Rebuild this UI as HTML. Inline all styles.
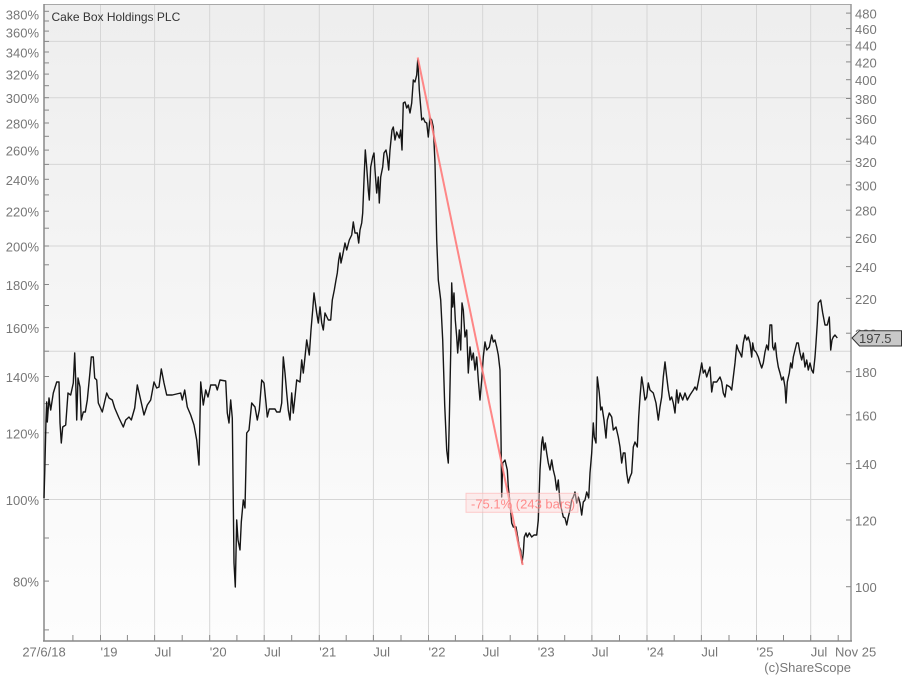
<!DOCTYPE html>
<html><head><meta charset="utf-8"><style>
html,body{margin:0;padding:0;background:#fff;}
svg{display:block;font-family:"Liberation Sans",Arial,sans-serif;}
</style></head><body>
<svg width="904" height="676" viewBox="0 0 904 676" xmlns="http://www.w3.org/2000/svg">
<defs>
<linearGradient id="bg" x1="0" y1="0" x2="0" y2="1">
<stop offset="0" stop-color="#eeeeee"/>
<stop offset="1" stop-color="#fdfdfd"/>
</linearGradient>
</defs>
<rect x="0" y="0" width="904" height="676" fill="#fff"/>
<rect x="44" y="4" width="807" height="637" fill="url(#bg)"/>
<!-- horizontal gridlines -->
<g stroke="#d6d6d6" stroke-width="1">
<line x1="44" x2="851" y1="499.5" y2="499.5"/>
<line x1="44" x2="851" y1="351.2" y2="351.2"/>
<line x1="44" x2="851" y1="246" y2="246"/>
<line x1="44" x2="851" y1="164.4" y2="164.4"/>
<line x1="44" x2="851" y1="97.7" y2="97.7"/>
<line x1="44" x2="851" y1="41.4" y2="41.4"/>
</g>
<!-- vertical gridlines -->
<g stroke="#d6d6d6" stroke-width="1">
<line y1="4" y2="641" x1="100.5" x2="100.5"/>
<line y1="4" y2="641" x1="154.6" x2="154.6"/>
<line y1="4" y2="641" x1="209.7" x2="209.7"/>
<line y1="4" y2="641" x1="264.2" x2="264.2"/>
<line y1="4" y2="641" x1="319.3" x2="319.3"/>
<line y1="4" y2="641" x1="373.4" x2="373.4"/>
<line y1="4" y2="641" x1="428.5" x2="428.5"/>
<line y1="4" y2="641" x1="482.7" x2="482.7"/>
<line y1="4" y2="641" x1="537.7" x2="537.7"/>
<line y1="4" y2="641" x1="591.9" x2="591.9"/>
<line y1="4" y2="641" x1="647" x2="647"/>
<line y1="4" y2="641" x1="701.4" x2="701.4"/>
<line y1="4" y2="641" x1="756.5" x2="756.5"/>
<line y1="4" y2="641" x1="810.7" x2="810.7"/>
</g>
<!-- border -->
<line x1="44" x2="851" y1="4.5" y2="4.5" stroke="#a8a8a8" stroke-width="1"/>
<line x1="44" x2="44" y1="4" y2="641.5" stroke="#888" stroke-width="1.5"/>
<line x1="851" x2="851" y1="4" y2="641.5" stroke="#999" stroke-width="1.5"/>
<line x1="43" x2="852" y1="641" y2="641" stroke="#888" stroke-width="1.5"/>
<!-- left ticks -->
<g stroke="#888" stroke-width="1">
<line x1="44" x2="49" y1="629.9" y2="629.9"/><line x1="44" x2="49" y1="581.1" y2="581.1"/><line x1="44" x2="49" y1="538" y2="538"/><line x1="44" x2="49" y1="499.5" y2="499.5"/><line x1="44" x2="49" y1="464.6" y2="464.6"/><line x1="44" x2="49" y1="432.8" y2="432.8"/><line x1="44" x2="49" y1="403.6" y2="403.6"/><line x1="44" x2="49" y1="376.5" y2="376.5"/><line x1="44" x2="49" y1="351.2" y2="351.2"/><line x1="44" x2="49" y1="327.6" y2="327.6"/><line x1="44" x2="49" y1="305.5" y2="305.5"/><line x1="44" x2="49" y1="284.5" y2="284.5"/><line x1="44" x2="49" y1="264.8" y2="264.8"/><line x1="44" x2="49" y1="246" y2="246"/><line x1="44" x2="49" y1="228.2" y2="228.2"/><line x1="44" x2="49" y1="211.2" y2="211.2"/><line x1="44" x2="49" y1="194.9" y2="194.9"/><line x1="44" x2="49" y1="179.3" y2="179.3"/><line x1="44" x2="49" y1="164.4" y2="164.4"/><line x1="44" x2="49" y1="150.1" y2="150.1"/><line x1="44" x2="49" y1="136.3" y2="136.3"/><line x1="44" x2="49" y1="123" y2="123"/><line x1="44" x2="49" y1="110.1" y2="110.1"/><line x1="44" x2="49" y1="97.7" y2="97.7"/><line x1="44" x2="49" y1="85.7" y2="85.7"/><line x1="44" x2="49" y1="74.1" y2="74.1"/><line x1="44" x2="49" y1="62.9" y2="62.9"/><line x1="44" x2="49" y1="52" y2="52"/><line x1="44" x2="49" y1="41.4" y2="41.4"/><line x1="44" x2="49" y1="31.1" y2="31.1"/><line x1="44" x2="49" y1="21" y2="21"/><line x1="44" x2="49" y1="11.3" y2="11.3"/>
</g>
<!-- right ticks -->
<g stroke="#888" stroke-width="1">
<line x1="846" x2="851" y1="586.7" y2="586.7"/><line x1="846" x2="851" y1="520" y2="520"/><line x1="846" x2="851" y1="463.7" y2="463.7"/><line x1="846" x2="851" y1="414.8" y2="414.8"/><line x1="846" x2="851" y1="371.7" y2="371.7"/><line x1="846" x2="851" y1="333.2" y2="333.2"/><line x1="846" x2="851" y1="298.4" y2="298.4"/><line x1="846" x2="851" y1="266.6" y2="266.6"/><line x1="846" x2="851" y1="237.3" y2="237.3"/><line x1="846" x2="851" y1="210.2" y2="210.2"/><line x1="846" x2="851" y1="184.9" y2="184.9"/><line x1="846" x2="851" y1="161.3" y2="161.3"/><line x1="846" x2="851" y1="139.2" y2="139.2"/><line x1="846" x2="851" y1="118.3" y2="118.3"/><line x1="846" x2="851" y1="98.5" y2="98.5"/><line x1="846" x2="851" y1="79.7" y2="79.7"/><line x1="846" x2="851" y1="61.9" y2="61.9"/><line x1="846" x2="851" y1="44.9" y2="44.9"/><line x1="846" x2="851" y1="28.6" y2="28.6"/><line x1="846" x2="851" y1="13.1" y2="13.1"/>
</g>
<!-- bottom ticks -->
<g stroke="#888" stroke-width="1">
<line y1="635" y2="641" x1="72.9" x2="72.9"/><line y1="635" y2="641" x1="100.5" x2="100.5"/><line y1="635" y2="641" x1="127.4" x2="127.4"/><line y1="635" y2="641" x1="154.6" x2="154.6"/><line y1="635" y2="641" x1="182.2" x2="182.2"/><line y1="635" y2="641" x1="209.7" x2="209.7"/><line y1="635" y2="641" x1="236.9" x2="236.9"/><line y1="635" y2="641" x1="264.2" x2="264.2"/><line y1="635" y2="641" x1="291.7" x2="291.7"/><line y1="635" y2="641" x1="319.3" x2="319.3"/><line y1="635" y2="641" x1="346.2" x2="346.2"/><line y1="635" y2="641" x1="373.4" x2="373.4"/><line y1="635" y2="641" x1="401" x2="401"/><line y1="635" y2="641" x1="428.5" x2="428.5"/><line y1="635" y2="641" x1="455.4" x2="455.4"/><line y1="635" y2="641" x1="482.7" x2="482.7"/><line y1="635" y2="641" x1="510.2" x2="510.2"/><line y1="635" y2="641" x1="537.7" x2="537.7"/><line y1="635" y2="641" x1="564.7" x2="564.7"/><line y1="635" y2="641" x1="591.9" x2="591.9"/><line y1="635" y2="641" x1="619.5" x2="619.5"/><line y1="635" y2="641" x1="647" x2="647"/><line y1="635" y2="641" x1="674.2" x2="674.2"/><line y1="635" y2="641" x1="701.4" x2="701.4"/><line y1="635" y2="641" x1="729" x2="729"/><line y1="635" y2="641" x1="756.5" x2="756.5"/><line y1="635" y2="641" x1="783.5" x2="783.5"/><line y1="635" y2="641" x1="810.7" x2="810.7"/><line y1="635" y2="641" x1="838.2" x2="838.2"/>
</g>
<!-- left labels -->
<g fill="#777" font-size="13" text-anchor="end">
<text x="39" y="19.5">380%</text>
<text x="39" y="37.3">360%</text>
<text x="39" y="57.5">340%</text>
<text x="39" y="79.6">320%</text>
<text x="39" y="103.2">300%</text>
<text x="39" y="128.5">280%</text>
<text x="39" y="155.6">260%</text>
<text x="39" y="184.8">240%</text>
<text x="39" y="216.7">220%</text>
<text x="39" y="251.5">200%</text>
<text x="39" y="290">180%</text>
<text x="39" y="333.1">160%</text>
<text x="39" y="382">140%</text>
<text x="39" y="438.3">120%</text>
<text x="39" y="505">100%</text>
<text x="39" y="586.6">80%</text>
</g>
<!-- right labels -->
<g fill="#777" font-size="13">
<text x="855" y="592.2">100</text>
<text x="855" y="525.5">120</text>
<text x="855" y="469.2">140</text>
<text x="855" y="420.3">160</text>
<text x="855" y="377.2">180</text>
<text x="855" y="338.7">200</text>
<text x="855" y="303.9">220</text>
<text x="855" y="272.1">240</text>
<text x="855" y="242.8">260</text>
<text x="855" y="215.7">280</text>
<text x="855" y="190.4">300</text>
<text x="855" y="166.8">320</text>
<text x="855" y="144.7">340</text>
<text x="855" y="123.8">360</text>
<text x="855" y="104">380</text>
<text x="855" y="85.2">400</text>
<text x="855" y="67.4">420</text>
<text x="855" y="50.4">440</text>
<text x="855" y="34.1">460</text>
<text x="855" y="18.6">480</text>
</g>
<!-- bottom labels -->
<g fill="#777" font-size="13">
<text x="44" y="656.5" text-anchor="middle">27/6/18</text>
<text x="100.5" y="656.5">'19</text>
<text x="154.6" y="656.5">Jul</text>
<text x="209.7" y="656.5">'20</text>
<text x="264.2" y="656.5">Jul</text>
<text x="319.3" y="656.5">'21</text>
<text x="373.4" y="656.5">Jul</text>
<text x="428.5" y="656.5">'22</text>
<text x="482.7" y="656.5">Jul</text>
<text x="537.7" y="656.5">'23</text>
<text x="591.9" y="656.5">Jul</text>
<text x="647" y="656.5">'24</text>
<text x="701.4" y="656.5">Jul</text>
<text x="756.5" y="656.5">'25</text>
<text x="810.7" y="656.5">Jul</text>
<text x="835" y="656.5">Nov 25</text>
<text x="851" y="672" text-anchor="end">(c)ShareScope</text>
</g>
<!-- title -->
<text x="51.5" y="21" font-size="12" fill="#333">Cake Box Holdings PLC</text>
<!-- price series -->
<polyline fill="none" stroke="#151515" stroke-width="1.4" stroke-linejoin="round" points="
44,498 44.8,470 46,420 46.7,402 47.3,422 49,398 50.7,410 53.3,393 56.7,382 59,382 60,423 61.3,443 62.7,427 65.7,425 68,393 70.7,395 73.3,383 74.7,353 75.7,380 76.7,420 78,378 80,387 81.3,420 83.3,412 85.3,412 87.3,400 90,372 91.3,357 93.3,357 94.7,378 96.7,380 98.3,403 102.3,412 106.7,393 109,398 112.3,400 114.7,408 119,418 123.3,427 125.7,420 129,417 131.3,420 134.7,408 137.3,385 140.7,400 144,415 147.3,405 150.7,400 154,382 156.7,388 159,387 161.3,369 164,383 166.7,395 172.3,395 180.7,393 182.3,400 184.7,390 187.3,407 190.7,415 194,425 196.7,440 199,465 200.7,382 203.3,405 205.7,390 208,397 210.7,385 215.7,385 217.3,390 220,380 225.7,381 227.3,413 229,423 230.7,400 232.3,418 234,563 235.3,587 236.7,520 238,540 240,550 241.3,522 243.3,500 245,508 246.7,433 249,430
251.7,403 255,407 257.3,420 259.3,410 261.7,380 264,383 266,403 267.3,417 269.3,409 275,409 276.7,412 280,412 281.7,403 283.3,357 285,373 286.7,393 288.3,410 290,420 291.7,393 293.3,413 295,397 296.7,380 300,382 301.7,360 303.3,373 305,357 306.7,340 309.3,355 311,330 312.7,310 314,293 316.7,313 318.3,323 320,307 321.7,323 323.3,330 325,313 328.3,320 330.7,320 332.3,300 334.3,290 336,280 337.3,273 338.7,260 340,253 341,263 342.7,255 345,243 346.7,250 349.3,240 351.7,235 353.3,222 355,233 357.3,233 358.7,243 360,230 361.7,223 362.7,213 364,180 365.3,150 366.7,167 368.3,190 369.3,200 370.7,167 372.7,157 374,153 375,170 376.7,193 378.3,177 379.3,203 380.7,177 382.7,167 384,153 386,150 387.3,157 388.7,170 390,150 392,130 393.3,127 395,140 396.7,132 399.3,138 400.7,130 402,150 403.3,103 405,102 406.7,108 408.3,105 410,113 411.7,103 413.3,80 415,82 416.7,75 417.7,60 418.3,70 419.3,90 420.7,107 421.7,120 423.3,118 425,122 426.7,123 428.3,137 430,118 431.7,120 433.3,127 435,163 436.7,240 438.3,280 440.7,300 442.7,340 444.7,405 446.7,450 448.3,463
449.3,420 450.7,353 451.7,283 452.7,307 454,293 455.3,320 456.7,337 457.7,353 459.3,330 460.7,350 462,303 463.3,310 465,337 466.7,330 468.3,373 470,347 471.7,360 473.3,353 475,370 476.7,357 478.3,380 480,400 481.7,380 483.3,357 485,342 486.7,350 489.3,347 491.7,335 493.3,342 495,340 496.7,347 498.3,355 500,370 501,437 501.7,497 502.7,463 505,460 507.3,470 508.3,487 510,503 511.7,523 513.3,527 516,527 517.7,537 519.3,547 520.7,550 522,563 523.3,553 524.3,537 526,533 527.3,537 529.3,533 531.7,537 534,535 536.7,535 538.3,520 540,470 541.7,443 542.7,437 544,450 545.3,443 546.7,453 548.3,463 550,470 551.7,460 553.3,470 555,477 556.7,490 558.3,480 560,503 561.7,510 563.3,517 565,518 566.7,525 568.3,517 570,510 571.7,500 573.3,497 575,492 576.7,503 578.3,497 580,503 581.7,515 583.3,502 585,500 586.7,492 588.7,498 590,473 591.7,453 593.3,423 594.3,437 596,443 597.3,377 599.3,393 600.7,410 602,407 604,420 606,438 607.3,420 609.3,413 611.7,417 613.3,430 616,427 618.3,437 620,447 621.7,463 623.3,453 625,453 626.7,473 628.3,483 630,477 631.7,473 633.3,447 635,442 637.3,447 638.7,417 640,397 641.7,377 643.3,387 645,400 646.7,397 648.3,383 650,390 653.3,393 656,403 658.3,420 660,407 661.7,397 663.3,377 665,362 666.7,377 668.3,390 670,400 671.7,397 673.3,403 675,413 676.7,390 678.3,403 680,393 682.7,400 685,393 687.3,400 690,395 693.3,390 695,387 696.7,390 698.3,382 700,373 701.7,363 703.3,373 705,370 706.7,377 708.3,372 710,367 711.7,392 713.3,382 716.7,382 720,377 721.7,382 723.3,393 725,397 726.7,385 730,387 731.7,390 733.3,377 735,363 736.7,345 738.3,350 740,353 741.7,357 743.3,343 745,335 746.7,340 748.3,337 750,343 751.7,357 752.7,343 754,350 756,352 758.3,357 760,363 761.7,368 763.3,363 765,352 766.7,345 768.3,350 770,325 771.7,325 772.7,347 774,350 775.3,343 776.7,357 778.3,367 780,373 781.7,380 783.3,377 785,387 786,403 787.3,382 789.3,373 790.7,363 792,368 793.3,357 795,350 796.7,343 798.3,343 800,353 801.7,360 803.3,353 805,367 806.7,360 808.3,370 810,363 811.7,370 813.3,373 815,357 816,343 817.3,323 818.3,303 820.7,300 822.7,313 825,325 827.3,325 829.3,317 830,333 830.7,350 832,340 833.3,337 835,335 837.3,338"/>
<!-- trend line -->
<line x1="417.7" y1="57.5" x2="522.7" y2="565" stroke="#ff7a7a" stroke-width="2" stroke-opacity="0.9"/>
<!-- trend label -->
<rect x="466" y="493.3" width="112" height="19" fill="#ffdcdc" fill-opacity="0.45" stroke="#ffb0b0" stroke-opacity="0.6" stroke-width="1"/>
<text x="471" y="508.5" font-size="13" fill="#ff7a7a" fill-opacity="0.85">-75.1% (243 bars)</text>
<!-- price tag -->
<polygon points="852,338 859.5,330.7 901.5,330.7 901.5,346 859.5,346" fill="#c8c8c8" stroke="#333" stroke-width="1"/>
<text x="859" y="343" font-size="13" fill="#444">197.5</text>
</svg>
</body></html>
